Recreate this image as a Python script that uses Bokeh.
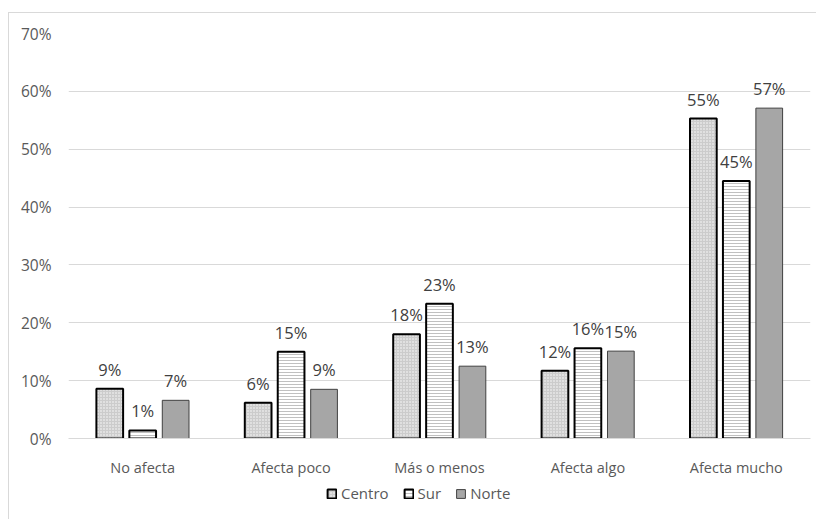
from bokeh.plotting import figure
from bokeh.layouts import column
from bokeh.models import (ColumnDataSource, FactorRange, Range1d, Legend, LegendItem,
                          FixedTicker, CustomJSTickFormatter)
from bokeh.transform import dodge
from bokeh.embed import file_html
from bokeh.resources import INLINE
from bokeh.core.properties import value

categories = ["No afecta", "Afecta poco", "Más o menos", "Afecta algo", "Afecta mucho"]
series = ["Centro", "Sur", "Norte"]
centro = [8.6, 6.2, 18.0, 11.7, 55.3]
sur = [1.4, 15.0, 23.3, 15.6, 44.5]
norte = [6.6, 8.5, 12.5, 15.1, 57.1]
y_ticks = [0, 10, 20, 30, 40, 50, 60, 70]

def lab(vals):
    return [f"{int(v + 0.5)}%" for v in vals]

src = ColumnDataSource(dict(cat=categories, centro=centro, sur=sur, norte=norte,
                            lc=lab(centro), ls=lab(sur), ln=lab(norte)))

FONT = "Open Sans"
W = 807
p = figure(x_range=FactorRange(*categories, range_padding=0), y_range=Range1d(0, 70),
           width=W, height=466, output_backend="svg", toolbar_location=None,
           min_border_left=59, min_border_right=6, min_border_top=20, min_border_bottom=39)
p.outline_line_color = None

styles = [
    dict(fill_color="#cccccc", line_color="black", line_width=2,
         hatch_pattern="dot", hatch_color="white", hatch_scale=3, hatch_weight=1),
    dict(fill_color="white", line_color="black", line_width=2,
         hatch_pattern="horizontal_line", hatch_color="#c0c0c0", hatch_scale=3, hatch_weight=1),
    dict(fill_color="#a6a6a6", line_color="#404040", line_width=1),
]

off = 0.222
w = 0.18
cols = ["centro", "sur", "norte"]
labcols = ["lc", "ls", "ln"]
offs = [-off, 0, off]
for col, st, dx in zip(cols, styles, offs):
    p.vbar(x=dodge("cat", dx, range=p.x_range), top=col, width=w, source=src, **st)

for col, lc, dx in zip(cols, labcols, offs):
    p.text(x=dodge("cat", dx, range=p.x_range), y=col, text=lc, source=src,
           text_align="center", text_baseline="bottom", y_offset=-8,
           text_font=value(FONT), text_font_size="16.5px", text_color="#404040")

p.yaxis.ticker = FixedTicker(ticks=y_ticks)
p.yaxis.formatter = CustomJSTickFormatter(code="return tick.toFixed(0) + '%';")
p.yaxis.axis_line_color = None
p.yaxis.major_tick_line_color = None
p.yaxis.minor_tick_line_color = None
p.yaxis.major_label_text_color = "#595959"
p.yaxis.major_label_text_font = FONT
p.yaxis.major_label_text_font_size = "15.5px"
p.yaxis.major_label_standoff = 11

p.xaxis.axis_line_color = "#d9d9d9"
p.xaxis.major_tick_line_color = None
p.xaxis.minor_tick_line_color = None
p.xaxis.major_label_text_color = "#595959"
p.xaxis.major_label_text_font = FONT
p.xaxis.major_label_text_font_size = "14.5px"
p.xaxis.major_label_standoff = 13

p.xgrid.grid_line_color = None
p.ygrid.grid_line_color = "#d9d9d9"

# legend strip (swatch renderers carry no visible data)
lg = figure(width=W, height=40, output_backend="svg", toolbar_location=None,
            x_range=Range1d(0, 1), y_range=Range1d(0, 1),
            x_axis_location=None, y_axis_location=None,
            min_border_left=59, min_border_right=6, min_border_top=3, min_border_bottom=0)
lg.outline_line_color = None
lg.xgrid.grid_line_color = None
lg.ygrid.grid_line_color = None
swatch = ColumnDataSource(dict(x=[float("nan")], top=[float("nan")]))
items = []
for name, st in zip(series, styles):
    r = lg.vbar(x="x", top="top", width=0.1, source=swatch, **st)
    items.append(LegendItem(label=name, renderers=[r]))

legend = Legend(items=items, orientation="horizontal", location=(258, 16),
                label_text_font=FONT, label_text_font_size="15px", label_text_color="#595959",
                glyph_width=11, glyph_height=11, spacing=14, label_standoff=4,
                border_line_color=None, background_fill_alpha=0, padding=4, margin=0)
lg.add_layout(legend, "center")

layout = column(p, lg, spacing=0)
layout.styles = {"border-left": "1px solid #d9d9d9", "border-top": "1px solid #d9d9d9",
                 "margin-left": "8px", "margin-top": "12px"}

open("out.html", "w").write(file_html(layout, INLINE))
